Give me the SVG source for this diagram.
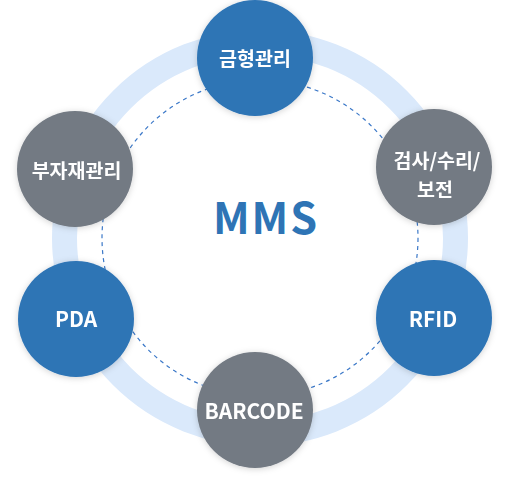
<svg xmlns="http://www.w3.org/2000/svg" width="522" height="499" viewBox="0 0 522 499">
  <defs>
    <filter id="sh" x="-20%" y="-20%" width="140%" height="140%">
      <feDropShadow dx="0" dy="1" stdDeviation="3" flood-color="#000" flood-opacity="0.18"/>
    </filter>
    <style>
      .ring{fill:none;stroke:#dae9fb;stroke-width:25}
      .dash{fill:none;stroke:#3b78c8;stroke-width:1.2;stroke-dasharray:4 4}
      .blue{fill:#2e74b5}
      .gray{fill:#737a83}
      .lbl{fill:#fff;font-family:"Noto Sans CJK KR","Noto Sans",sans-serif;font-weight:700;text-anchor:middle}
      .ko{font-size:19.5px}
      .en{font-size:21px}
      .title{fill:#2e74b5;font-family:"Noto Sans CJK KR","Noto Sans",sans-serif;font-weight:700;font-size:43px;text-anchor:middle;letter-spacing:2px}
    </style>
  </defs>
  <rect width="522" height="499" fill="#fff"/>
  <g id="connectors">
    <circle class="ring" cx="260" cy="238" r="195.5"/>
    <circle class="dash" cx="260" cy="238" r="158"/>
  </g>
  <g id="center">
    <text class="title" x="266" y="234">MMS</text>
  </g>
  <g id="node-top" filter="url(#sh)">
    <circle class="blue" cx="255" cy="58" r="58"/>
    <text class="lbl ko" x="255" y="66">금형관리</text>
  </g>
  <g id="node-right-top" filter="url(#sh)">
    <circle class="gray" cx="434" cy="167" r="58"/>
    <text class="lbl ko" x="437" y="167.5">검사/수리/</text>
    <text class="lbl ko" x="435" y="196.5">보전</text>
  </g>
  <g id="node-right-bottom" filter="url(#sh)">
    <circle class="blue" cx="434" cy="318" r="58"/>
    <text class="lbl en" x="433" y="327">RFID</text>
  </g>
  <g id="node-bottom" filter="url(#sh)">
    <circle class="gray" cx="255" cy="410" r="58"/>
    <text class="lbl en" x="254" y="419">BARCODE</text>
  </g>
  <g id="node-left-bottom" filter="url(#sh)">
    <circle class="blue" cx="76" cy="319" r="58"/>
    <text class="lbl en" x="76" y="327">PDA</text>
  </g>
  <g id="node-left-top" filter="url(#sh)">
    <circle class="gray" cx="75" cy="169" r="58"/>
    <text class="lbl ko" x="76.5" y="177.5">부자재관리</text>
  </g>
</svg>
